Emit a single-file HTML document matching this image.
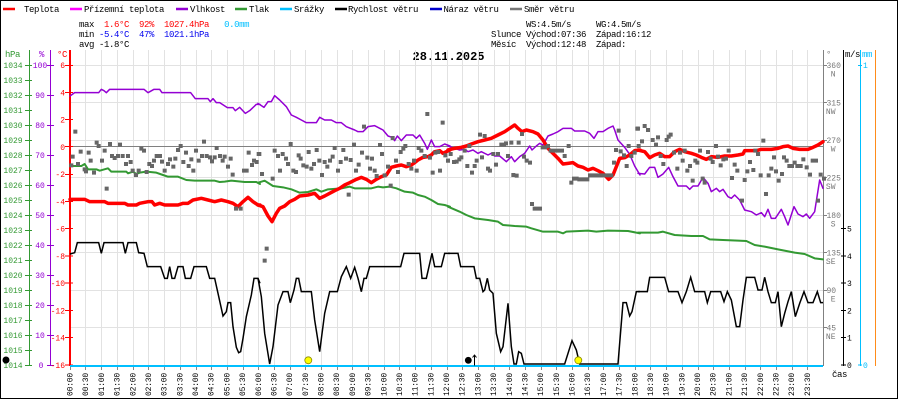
<!DOCTYPE html>
<html><head><meta charset="utf-8">
<style>
body{margin:0;background:#fff}
svg{display:block}
svg text{font-family:"Liberation Mono","DejaVu Sans Mono",monospace;white-space:pre}
.s{font-size:9px;letter-spacing:-0.4px}
.a{font-size:8px}
.x{font-size:8px;letter-spacing:-0.2px}
</style></head><body>
<svg width="900" height="400" viewBox="0 0 900 400" xmlns="http://www.w3.org/2000/svg">
<rect x="0" y="0" width="900" height="400" fill="#fff"/>
<!-- frame -->
<rect x="0.5" y="0.5" width="897" height="398" fill="none" stroke="#000" stroke-width="1"/>

<!-- legend -->
<g stroke-width="2.5">
<line x1="3" y1="9" x2="15" y2="9" stroke="#ff0000"/>
<line x1="70" y1="9" x2="82" y2="9" stroke="#ff00ff"/>
<line x1="176" y1="9" x2="188" y2="9" stroke="#9400d3"/>
<line x1="235" y1="9" x2="247" y2="9" stroke="#339933"/>
<line x1="280" y1="9" x2="292" y2="9" stroke="#00bfff"/>
<line x1="335" y1="9" x2="347" y2="9" stroke="#000"/>
<line x1="430" y1="9" x2="442" y2="9" stroke="#0000cc"/>
<line x1="510" y1="9" x2="522" y2="9" stroke="#777"/>
</g>
<g class="s" fill="#000">
<text class="s" x="24" y="12">Teplota</text>
<text class="s" x="84" y="12">Přízemní teplota</text>
<text class="s" x="190" y="12">Vlhkost</text>
<text class="s" x="249" y="12">Tlak</text>
<text class="s" x="294" y="12">Srážky</text>
<text class="s" x="348" y="12">Rychlost větru</text>
<text class="s" x="443.5" y="12">Náraz větru</text>
<text class="s" x="524" y="12">Směr větru</text>
</g>

<!-- stats -->
<text class="s" x="79" y="27">max  <tspan fill="#ff0000">1.6°C  92%  1027.4hPa</tspan>   <tspan fill="#00bfff">0.0mm</tspan></text>
<text class="s" x="79" y="37">min <tspan fill="#0000ee">-5.4°C  47%  1021.1hPa</tspan></text>
<text class="s" x="79" y="47">avg -1.8°C</text>
<text class="s" x="491" y="27">       WS:4.5m/s     WG:4.5m/s</text>
<text class="s" x="491" y="37">Slunce Východ:07:36  Západ:16:12</text>
<text class="s" x="491" y="47">Měsíc  Východ:12:48  Západ:</text>

<text x="412.5" y="60" font-size="12" font-weight="bold">28.11.2025</text>

<!-- grid -->
<path fill="none" stroke="#e2e2e2" stroke-width="1" d="M85.5 50V365M101.5 50V365M117.5 50V365M133.5 50V365M148.5 50V365M164.5 50V365M180.5 50V365M196.5 50V365M211.5 50V365M227.5 50V365M243.5 50V365M258.5 50V365M274.5 50V365M290.5 50V365M305.5 50V365M321.5 50V365M337.5 50V365M352.5 50V365M368.5 50V365M384.5 50V365M399.5 50V365M415.5 50V365M431.5 50V365M447.5 50V365M462.5 50V365M478.5 50V365M494.5 50V365M509.5 50V365M525.5 50V365M541.5 50V365M556.5 50V365M572.5 50V365M588.5 50V365M603.5 50V365M619.5 50V365M635.5 50V365M650.5 50V365M666.5 50V365M682.5 50V365M698.5 50V365M713.5 50V365M729.5 50V365M745.5 50V365M760.5 50V365M776.5 50V365M792.5 50V365M807.5 50V365
M70 65.5H823M70 102.5H823M70 140.5H823M70 177.5H823M70 215.5H823M70 252.5H823M70 290.5H823M70 327.5H823"/>
<line x1="70" y1="146.5" x2="823" y2="146.5" stroke="#808080" stroke-width="1"/>

<!-- bottom ticks -->
<path fill="none" stroke="#888" stroke-width="1" d="M70.5 367V370M85.5 367V370M101.5 367V370M117.5 367V370M133.5 367V370M148.5 367V370M164.5 367V370M180.5 367V370M196.5 367V370M211.5 367V370M227.5 367V370M243.5 367V370M258.5 367V370M274.5 367V370M290.5 367V370M305.5 367V370M321.5 367V370M337.5 367V370M352.5 367V370M368.5 367V370M384.5 367V370M399.5 367V370M415.5 367V370M431.5 367V370M447.5 367V370M462.5 367V370M478.5 367V370M494.5 367V370M509.5 367V370M525.5 367V370M541.5 367V370M556.5 367V370M572.5 367V370M588.5 367V370M603.5 367V370M619.5 367V370M635.5 367V370M650.5 367V370M666.5 367V370M682.5 367V370M698.5 367V370M713.5 367V370M729.5 367V370M745.5 367V370M760.5 367V370M776.5 367V370M792.5 367V370M807.5 367V370"/>

<!-- axes left -->
<line x1="29.5" y1="50" x2="29.5" y2="366" stroke="#339933"/>
<line x1="50.5" y1="50" x2="50.5" y2="366" stroke="#9400d3"/>
<line x1="70" y1="50" x2="70" y2="366" stroke="#ff0000" stroke-width="2"/>
<path stroke="#339933" d="M25 65.5h7M25 80.5h7M25 95.5h7M25 110.5h7M25 125.5h7M25 140.5h7M25 155.5h7M25 170.5h7M25 185.5h7M25 200.5h7M25 215.5h7M25 230.5h7M25 245.5h7M25 260.5h7M25 275.5h7M25 290.5h7M25 305.5h7M25 320.5h7M25 335.5h7M25 350.5h7M25 365.5h7"/>
<path stroke="#9400d3" d="M47 65.5h7M47 95.5h7M47 125.5h7M47 155.5h7M47 185.5h7M47 215.5h7M47 245.5h7M47 275.5h7M47 305.5h7M47 335.5h7M47 365.5h7"/>
<path stroke="#ff0000" d="M65 65.5h8M65 92.5h8M65 119.5h8M65 146.5h8M65 174.5h8M65 201.5h8M65 228.5h8M65 256h8M65 283h8M65 310.5h8M65 337.5h8M65 365h8"/>
<text class="s" x="5" y="57" fill="#339933">hPa</text>
<text class="s" x="39" y="57" fill="#9400d3">%</text>
<text class="s" x="57" y="57" fill="#ff0000">°C</text>
<g class="a" fill="#339933" text-anchor="middle">
<text class="a" x="13" y="68">1034</text><text class="a" x="13" y="83">1033</text><text class="a" x="13" y="98">1032</text><text class="a" x="13" y="113">1031</text><text class="a" x="13" y="128">1030</text><text class="a" x="13" y="143">1029</text><text class="a" x="13" y="158">1028</text><text class="a" x="13" y="173">1027</text><text class="a" x="13" y="188">1026</text><text class="a" x="13" y="203">1025</text><text class="a" x="13" y="218">1024</text><text class="a" x="13" y="233">1023</text><text class="a" x="13" y="248">1022</text><text class="a" x="13" y="263">1021</text><text class="a" x="13" y="278">1020</text><text class="a" x="13" y="293">1019</text><text class="a" x="13" y="308">1018</text><text class="a" x="13" y="323">1017</text><text class="a" x="13" y="338">1016</text><text class="a" x="13" y="353">1015</text><text class="a" x="13" y="368">1014</text>
</g>
<g fill="#9400d3" text-anchor="middle">
<text class="a" x="40" y="68">100</text><text class="a" x="40" y="98">90</text><text class="a" x="40" y="128">80</text><text class="a" x="40" y="158">70</text><text class="a" x="40" y="188">60</text><text class="a" x="40" y="218">50</text><text class="a" x="40" y="248">40</text><text class="a" x="40" y="278">30</text><text class="a" x="40" y="308">20</text><text class="a" x="40" y="338">10</text><text class="a" x="41" y="368">0</text>
</g>
<g fill="#ff0000" text-anchor="end">
<text class="a" x="65" y="68">6</text><text class="a" x="65" y="95.3">4</text><text class="a" x="65" y="122.5">2</text><text class="a" x="65" y="149.8">0</text><text class="a" x="65" y="177">-2</text><text class="a" x="65" y="204.4">-4</text><text class="a" x="65" y="231.6">-6</text><text class="a" x="65" y="258.9">-8</text><text class="a" x="65" y="286.2">-10</text><text class="a" x="65" y="313.5">-12</text><text class="a" x="65" y="340.7">-14</text><text class="a" x="65" y="368">-16</text>
</g>

<!-- axes right -->
<line x1="823.5" y1="50" x2="823.5" y2="366" stroke="#808080"/>
<line x1="843.5" y1="50" x2="843.5" y2="366" stroke="#000"/>
<line x1="860.5" y1="50" x2="860.5" y2="366" stroke="#00bfff"/>
<line x1="875.5" y1="50" x2="875.5" y2="366" stroke="#ff8c1a"/>
<path stroke="#808080" d="M823 65.5h4M823 102.5h4M823 140.5h4M823 177.5h4M823 215.5h4M823 252.5h4M823 290.5h4M823 327.5h4"/>
<path stroke="#000" d="M841 365h5M841 337.5h5M841 310.5h5M841 283h5M841 256h5M841 228.5h5"/>
<path stroke="#00bfff" d="M858 365h4M858 65.5h4"/>
<text class="s" x="826" y="57" fill="#808080">°</text>
<text class="s" x="845" y="57" fill="#000">m/s</text>
<text class="s" x="862" y="57" fill="#00bfff">mm</text>
<g fill="#777">
<text class="a" x="826.5" y="68">360</text><text class="a" x="835.5" y="76.5" text-anchor="end">N</text>
<text class="a" x="826.5" y="105.5">315</text><text class="a" x="835.5" y="114" text-anchor="end">NW</text>
<text class="a" x="826.5" y="143">270</text><text class="a" x="835.5" y="151.5" text-anchor="end">W</text>
<text class="a" x="826.5" y="180.5">225</text><text class="a" x="835.5" y="189" text-anchor="end">SW</text>
<text class="a" x="826.5" y="218">180</text><text class="a" x="835.5" y="226.5" text-anchor="end">S</text>
<text class="a" x="826.5" y="255.5">135</text><text class="a" x="835.5" y="264" text-anchor="end">SE</text>
<text class="a" x="826.5" y="293">90</text><text class="a" x="835.5" y="301.5" text-anchor="end">E</text>
<text class="a" x="826.5" y="330.5">45</text><text class="a" x="835.5" y="339" text-anchor="end">NE</text>
</g>
<g fill="#000">
<text class="a" x="847" y="368">0</text><text class="a" x="847" y="340.5">1</text><text class="a" x="847" y="313.5">2</text><text class="a" x="847" y="286">3</text><text class="a" x="847" y="259">4</text><text class="a" x="847" y="231.5">5</text>
</g>
<text class="a" x="863" y="68" fill="#00bfff">1</text>
<text class="a" x="863" y="368" fill="#00bfff">0</text>
<text class="s" x="832" y="377">čas</text>

<!-- x labels -->
<g fill="#000">
<text class="x" transform="translate(72.5 396) rotate(-90)">00:00</text>
<text class="x" transform="translate(88.2 396) rotate(-90)">00:30</text>
<text class="x" transform="translate(103.9 396) rotate(-90)">01:00</text>
<text class="x" transform="translate(119.6 396) rotate(-90)">01:30</text>
<text class="x" transform="translate(135.3 396) rotate(-90)">02:00</text>
<text class="x" transform="translate(150.9 396) rotate(-90)">02:30</text>
<text class="x" transform="translate(166.6 396) rotate(-90)">03:00</text>
<text class="x" transform="translate(182.3 396) rotate(-90)">03:30</text>
<text class="x" transform="translate(198 396) rotate(-90)">04:00</text>
<text class="x" transform="translate(213.7 396) rotate(-90)">04:30</text>
<text class="x" transform="translate(229.4 396) rotate(-90)">05:00</text>
<text class="x" transform="translate(245.1 396) rotate(-90)">05:30</text>
<text class="x" transform="translate(260.8 396) rotate(-90)">06:00</text>
<text class="x" transform="translate(276.4 396) rotate(-90)">06:30</text>
<text class="x" transform="translate(292.1 396) rotate(-90)">07:00</text>
<text class="x" transform="translate(307.8 396) rotate(-90)">07:30</text>
<text class="x" transform="translate(323.5 396) rotate(-90)">08:00</text>
<text class="x" transform="translate(339.2 396) rotate(-90)">08:30</text>
<text class="x" transform="translate(354.9 396) rotate(-90)">09:00</text>
<text class="x" transform="translate(370.6 396) rotate(-90)">09:30</text>
<text class="x" transform="translate(386.3 396) rotate(-90)">10:00</text>
<text class="x" transform="translate(401.9 396) rotate(-90)">10:30</text>
<text class="x" transform="translate(417.6 396) rotate(-90)">11:00</text>
<text class="x" transform="translate(433.3 396) rotate(-90)">11:30</text>
<text class="x" transform="translate(449 396) rotate(-90)">12:00</text>
<text class="x" transform="translate(464.7 396) rotate(-90)">12:30</text>
<text class="x" transform="translate(480.4 396) rotate(-90)">13:00</text>
<text class="x" transform="translate(496.1 396) rotate(-90)">13:30</text>
<text class="x" transform="translate(511.8 396) rotate(-90)">14:00</text>
<text class="x" transform="translate(527.4 396) rotate(-90)">14:30</text>
<text class="x" transform="translate(543.1 396) rotate(-90)">15:00</text>
<text class="x" transform="translate(558.8 396) rotate(-90)">15:30</text>
<text class="x" transform="translate(574.5 396) rotate(-90)">16:00</text>
<text class="x" transform="translate(590.2 396) rotate(-90)">16:30</text>
<text class="x" transform="translate(605.9 396) rotate(-90)">17:00</text>
<text class="x" transform="translate(621.6 396) rotate(-90)">17:30</text>
<text class="x" transform="translate(637.3 396) rotate(-90)">18:00</text>
<text class="x" transform="translate(652.9 396) rotate(-90)">18:30</text>
<text class="x" transform="translate(668.6 396) rotate(-90)">19:00</text>
<text class="x" transform="translate(684.3 396) rotate(-90)">19:30</text>
<text class="x" transform="translate(700 396) rotate(-90)">20:00</text>
<text class="x" transform="translate(715.7 396) rotate(-90)">20:30</text>
<text class="x" transform="translate(731.4 396) rotate(-90)">21:00</text>
<text class="x" transform="translate(747.1 396) rotate(-90)">21:30</text>
<text class="x" transform="translate(762.8 396) rotate(-90)">22:00</text>
<text class="x" transform="translate(778.4 396) rotate(-90)">22:30</text>
<text class="x" transform="translate(794.1 396) rotate(-90)">23:00</text>
<text class="x" transform="translate(809.8 396) rotate(-90)">23:30</text>
</g>

<!-- precipitation baseline -->
<line x1="70" y1="366" x2="823" y2="366" stroke="#00bfff" stroke-width="2"/>

<!-- SERIES (coordinates in 3x zoom space per section) -->
<g fill="none" stroke-linejoin="round" stroke-linecap="round">
 <!-- pressure -->
 <g stroke="#339933" stroke-width="6">
  <polyline transform="translate(68 60) scale(0.333333)" points="6,318 40,318 50,312 60,328 85,328 95,332 120,325 130,335 175,335 180,340 195,335 205,342 215,338 235,335 265,338 285,345 300,350 330,350 355,360 380,362 440,362 455,366 470,365 490,362 530,366 565,366 576,372"/>
  <polyline transform="translate(258 60) scale(0.333333)" points="0,368 20,362 45,378 75,382 100,388 125,398 150,396 175,388 190,395 210,388 250,385 275,380 290,385 340,385 360,380 375,382 395,380 415,385 440,395 465,398 480,405 500,410 520,420 540,432 560,435 576,440"/>
  <polyline transform="translate(448 60) scale(0.333333)" points="0,440 35,455 55,465 80,475 120,480 150,485 165,495 200,498 235,500 250,505 285,515 330,515 345,520 355,515 420,512 445,515 480,512 540,513 576,520"/>
  <polyline transform="translate(638 60) scale(0.333333)" points="0,518 60,518 75,515 110,525 160,528 195,528 215,538 255,540 300,542 325,543 350,555 380,560 420,568 470,578 500,582 530,595 555,598"/>
 </g>
 <!-- humidity -->
 <g stroke="#9400d3" stroke-width="4.5">
  <polyline transform="translate(68 60) scale(0.333333)" points="6,108 20,98 92,98 100,88 108,92 115,98 125,88 228,88 240,98 258,88 275,88 282,98 368,98 382,116 420,116 427,125 435,116 445,128 455,128 478,143 495,143 502,152 515,142 532,160 545,152 565,133 576,133"/>
  <polyline transform="translate(258 60) scale(0.333333)" points="0,130 18,142 30,125 40,125 50,107 65,120 85,140 100,165 115,172 130,180 145,188 175,188 185,172 200,180 220,180 235,188 250,188 265,200 290,210 300,215 315,215 330,200 350,197 375,210 390,228 402,232 410,242 418,228 430,242 445,225 465,225 475,235 485,225 500,250 508,268 520,240 530,260 545,260 560,252 576,258"/>
  <polyline transform="translate(448 60) scale(0.333333)" points="0,258 20,265 35,270 50,268 60,275 75,270 90,280 100,275 120,285 130,280 140,288 155,288 175,305 190,290 200,305 215,290 230,280 245,258 252,270 265,258 275,250 285,255 300,228 315,222 330,215 345,205 370,205 380,213 410,213 425,220 438,235 450,215 465,215 480,205 495,198 500,210 510,240 530,262 545,283 560,318 576,345"/>
  <polyline transform="translate(638 60) scale(0.333333)" points="0,340 20,342 35,322 50,322 60,352 75,342 92,322 105,350 120,378 145,378 155,388 165,378 180,378 195,352 210,370 220,395 235,385 245,395 255,388 270,410 280,415 290,405 305,420 320,450 340,455 355,465 370,458 380,470 390,448 400,475 412,475 430,448 440,470 450,495 468,440 480,462 495,470 505,462 515,475 530,455 545,360 555,385"/>
 </g>
 <!-- temperature -->
 <g stroke="#ff0000" stroke-width="10.5">
  <polyline transform="translate(68 60) scale(0.333333)" points="6,418 50,418 65,425 110,425 120,430 170,430 180,435 205,435 215,430 240,425 252,425 260,435 275,430 290,435 330,435 345,430 360,430 375,420 400,415 420,420 440,425 460,420 480,425 495,430 510,440 525,425 540,412 555,425 570,435 576,435"/>
  <polyline transform="translate(258 60) scale(0.333333)" points="0,435 15,440 30,468 42,485 55,460 65,445 80,438 95,425 110,418 125,408 150,405 170,400 185,415 200,408 215,400 230,392 245,385 260,375 275,368 295,358 310,352 325,358 340,368 355,358 370,350 385,345 400,322 415,318 430,315 445,320 460,315 470,308 480,300 495,292 510,290 520,285 530,275 545,272 555,280 565,275 576,270"/>
  <polyline transform="translate(448 60) scale(0.333333)" points="0,270 20,265 40,262 55,258 70,252 90,245 110,240 130,235 150,225 170,215 185,205 200,195 210,205 222,215 235,210 255,215 270,222 285,240 300,265 315,280 330,295 345,312 360,310 375,308 390,318 405,322 420,330 435,325 450,332 465,340 482,358 495,345 505,320 515,295 530,293 545,285 560,272 576,270"/>
  <polyline transform="translate(638 60) scale(0.333333)" points="0,270 20,275 35,293 50,285 65,280 80,290 95,290 110,275 125,268 140,275 160,280 175,285 190,292 205,298 220,290 240,292 260,288 280,288 300,285 315,282 320,272 355,272 370,268 400,268 420,265 435,260 450,258 465,265 485,268 510,268 525,262 540,255 555,245"/>
 </g>
 <!-- wind speed -->
 <g stroke="#000" stroke-width="4.5" stroke-linecap="butt" stroke-linejoin="miter">
  <polyline transform="translate(68 60) scale(0.333333)" points="6,582 20,578 28,548 92,548 100,580 108,548 165,548 172,580 180,548 205,548 212,578 228,580 238,620 278,620 290,655 298,655 305,620 312,655 320,655 330,620 345,620 352,655 368,655 378,620 415,620 425,655 440,655 450,700 465,768 475,755 480,728 488,728 495,800 505,862 512,878 518,875 525,835 535,770 550,705 558,655 570,655 576,670"/>
  <polyline transform="translate(258 60) scale(0.333333)" points="0,655 10,710 20,820 35,912 45,860 60,735 75,695 90,695 97,728 108,690 115,655 122,655 130,695 160,695 170,780 185,875 200,760 215,695 238,695 250,650 265,620 278,655 290,622 300,655 310,695 318,655 325,655 335,620 428,620 438,580 485,580 492,655 505,655 522,580 530,620 550,620 560,580 576,580"/>
  <polyline transform="translate(448 60) scale(0.333333)" points="0,580 30,580 38,620 78,620 85,655 95,655 105,695 110,690 118,655 125,690 135,700 145,820 158,875 165,860 180,730 190,860 198,912 205,912 212,875 220,880 228,912 350,912 372,842 385,870 395,912 510,912 515,850 525,728 535,728 545,768 552,755 565,695 576,695"/>
  <polyline transform="translate(638 60) scale(0.333333)" points="0,695 28,695 35,652 80,652 92,695 120,695 132,728 145,695 158,652 170,695 200,695 208,728 218,695 248,695 258,725 268,695 280,720 295,800 305,800 315,720 325,652 350,652 360,690 372,690 380,652 390,695 400,728 412,728 420,695 430,800 440,760 450,725 460,695 472,770 485,730 498,695 510,728 525,728 538,695 548,728 555,728"/>
 </g>
</g>

<!-- wind direction squares -->
<g fill="none" stroke="#666" stroke-width="12" stroke-linecap="square">
<path transform="translate(68 60) scale(0.333333)" d="M10 316h.01M22 215h.01M14 290h.01M30 312h.01M38 275h.01M50 328h.01M54 334h.01M62 278h.01M68 302h.01M78 338h.01M86 248h.01M92 258h.01M102 302h.01M110 272h.01M116 386h.01M126 252h.01M132 288h.01M140 294h.01M150 288h.01M156 254h.01M164 288h.01M174 312h.01M180 288h.01M188 306h.01M194 332h.01M204 345h.01M212 332h.01M220 266h.01M228 272h.01M236 336h.01M244 312h.01M252 318h.01M258 302h.01M266 288h.01M276 288h.01M282 305h.01M290 332h.01M300 312h.01M306 298h.01M316 320h.01M322 296h.01M330 270h.01M338 258h.01M346 306h.01M354 278h.01M362 318h.01M370 298h.01M376 332h.01M384 272h.01M392 302h.01M402 288h.01M408 245h.01M416 288h.01M426 292h.01M432 304h.01M440 292h.01M446 264h.01M456 288h.01M464 302h.01M470 290h.01M480 320h.01M488 296h.01M494 344h.01M504 446h.01M518 446h.01M528 332h.01M536 332h.01M542 278h.01M552 315h.01M558 302h.01M566 306h.01M572 282h.01"/>
<path transform="translate(258 60) scale(0.333333)" d="M4 282h.01M12 342h.01M26 566h.01M20 602h.01M44 356h.01M50 272h.01M60 288h.01M66 332h.01M74 282h.01M84 296h.01M90 312h.01M98 252h.01M106 332h.01M114 336h.01M122 286h.01M128 296h.01M136 316h.01M146 320h.01M152 276h.01M160 326h.01M168 312h.01M176 270h.01M184 302h.01M192 345h.01M200 306h.01M208 320h.01M216 302h.01M224 290h.01M230 264h.01M240 332h.01M248 306h.01M256 270h.01M264 296h.01M272 404h.01M278 300h.01M288 254h.01M294 332h.01M302 314h.01M312 278h.01M318 200h.01M328 293h.01M336 326h.01M342 296h.01M350 332h.01M356 348h.01M366 255h.01M372 282h.01M380 346h.01M390 320h.01M398 377h.01M404 234h.01M414 302h.01M420 336h.01M428 276h.01M436 266h.01M442 258h.01M452 312h.01M460 326h.01M468 302h.01M476 332h.01M482 264h.01M490 272h.01M500 288h.01M508 162h.01M516 293h.01M524 338h.01M532 278h.01M540 276h.01M546 332h.01M554 188h.01M562 286h.01M570 302h.01"/>
<path transform="translate(448 60) scale(0.333333)" d="M0 302h.01M8 282h.01M18 306h.01M26 305h.01M34 298h.01M40 292h.01M50 272h.01M58 318h.01M64 258h.01M72 338h.01M80 318h.01M86 302h.01M96 224h.01M102 292h.01M110 228h.01M120 326h.01M126 332h.01M136 282h.01M144 314h.01M150 282h.01M160 254h.01M168 254h.01M174 250h.01M180 288h.01M190 248h.01M196 345h.01M206 347h.01M212 248h.01M222 222h.01M228 290h.01M236 302h.01M246 308h.01M252 432h.01M260 446h.01M268 446h.01M276 446h.01M284 262h.01M292 262h.01M300 258h.01M308 272h.01M318 272h.01M326 272h.01M334 272h.01M342 272h.01M350 288h.01M362 258h.01M370 368h.01M378 356h.01M386 356h.01M394 358h.01M402 358h.01M410 358h.01M418 358h.01M426 346h.01M434 346h.01M442 346h.01M450 346h.01M458 346h.01M466 346h.01M474 346h.01M482 346h.01M490 346h.01M498 308h.01M504 270h.01M512 212h.01M518 274h.01M528 286h.01M536 318h.01M542 258h.01M550 288h.01M560 278h.01M568 206h.01M572 258h.01"/>
<path transform="translate(638 60) scale(0.333333)" d="M0 206h.01M12 244h.01M20 198h.01M30 210h.01M44 240h.01M54 254h.01M60 232h.01M68 288h.01M76 312h.01M86 240h.01M92 230h.01M98 224h.01M108 278h.01M118 326h.01M126 278h.01M134 302h.01M140 272h.01M148 332h.01M156 318h.01M164 362h.01M172 302h.01M178 308h.01M186 272h.01M194 356h.01M200 368h.01M210 276h.01M218 296h.01M224 306h.01M234 258h.01M240 290h.01M248 316h.01M256 298h.01M264 296h.01M272 272h.01M282 354h.01M290 314h.01M298 332h.01M312 422h.01M320 360h.01M328 334h.01M336 306h.01M346 330h.01M352 272h.01M360 282h.01M368 346h.01M376 242h.01M384 402h.01M392 346h.01M400 326h.01M408 292h.01M414 334h.01M422 362h.01M432 342h.01M438 292h.01M446 302h.01M454 318h.01M462 318h.01M470 308h.01M478 318h.01M488 318h.01M496 298h.01M506 322h.01M516 344h.01M524 302h.01M534 302h.01M540 422h.01M548 344h.01M558 356h.01"/>
</g>

<!-- sun / moon markers -->
<circle cx="6" cy="360" r="3.5" fill="#000"/>
<circle cx="308.3" cy="360.3" r="3.5" fill="#ffff00" stroke="#8a8a00" stroke-width="0.8"/>
<circle cx="578.3" cy="360.3" r="3.5" fill="#ffff00" stroke="#8a8a00" stroke-width="0.8"/>
<circle cx="468.3" cy="360.3" r="3.4" fill="#000"/>
<path d="M474.5 365.5V355M472.5 357.5L474.5 355L476.5 357.5" fill="none" stroke="#000" stroke-width="1"/>
</svg>
</body></html>
